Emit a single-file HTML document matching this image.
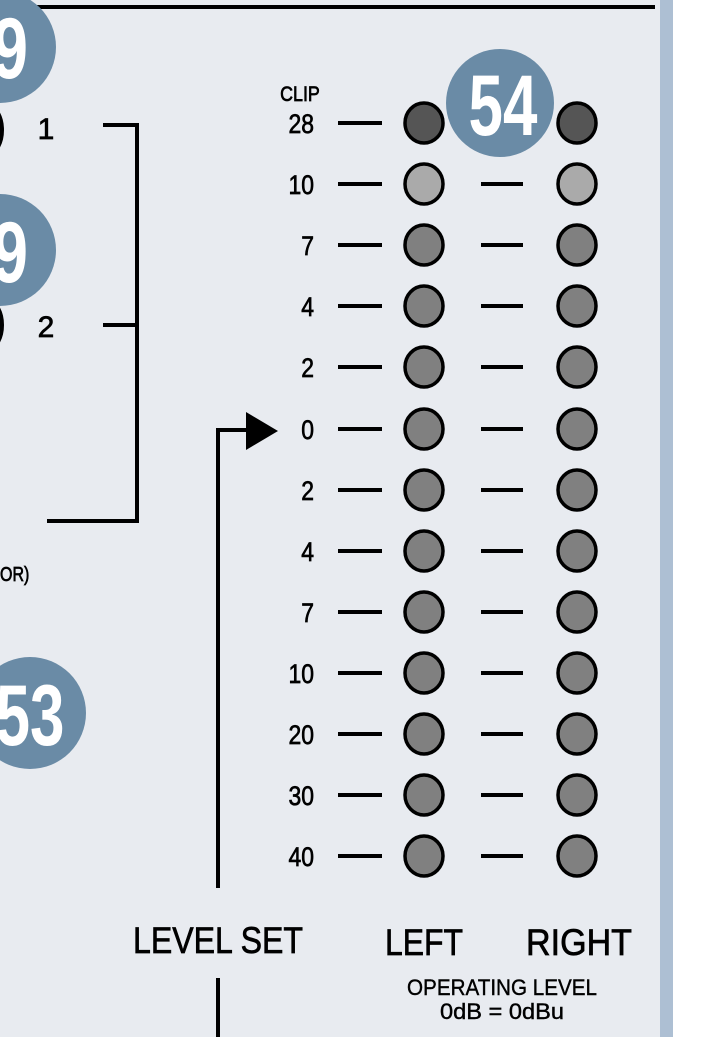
<!DOCTYPE html>
<html><head><meta charset="utf-8"><style>
html,body{margin:0;padding:0;background:#fff;}
svg{display:block;}
text{font-family:"Liberation Sans",sans-serif;}
.m{stroke:#000;stroke-width:0.7;}
</style></head><body>
<svg width="720" height="1037" viewBox="0 0 720 1037" xmlns="http://www.w3.org/2000/svg">
<rect x="0" y="0" width="660" height="1037" fill="#e8ebf0"/>
<rect x="660" y="0" width="13" height="1037" fill="#adbfd3"/>
<rect x="25" y="5" width="630" height="4" fill="#000"/>
<g fill="#6a8ba6">
<circle cx="0" cy="47" r="56"/>
<circle cx="0" cy="250" r="56"/>
<circle cx="30" cy="713" r="56"/>
<circle cx="500" cy="103" r="54"/>
</g>
<g fill="#fff" font-weight="bold" text-anchor="middle">
<text x="10" y="78" font-size="86" transform="translate(10 78) scale(0.75 1) translate(-10 -78)">9</text>
<text x="10" y="282" font-size="86" transform="translate(10 282) scale(0.75 1) translate(-10 -282)">9</text>
<text x="30" y="745" font-size="86" transform="translate(30 745) scale(0.72 1) translate(-30 -745)">53</text>
<text x="503" y="135" font-size="86" transform="translate(503 135) scale(0.72 1) translate(-503 -135)">54</text>
</g>
<ellipse cx="-12" cy="130" rx="14" ry="24" fill="none" stroke="#000" stroke-width="4"/>
<ellipse cx="-12" cy="325" rx="14" ry="24" fill="none" stroke="#000" stroke-width="4"/>
<text class="m" x="46" y="139" font-size="30" text-anchor="middle">1</text>
<text class="m" x="46" y="337" font-size="30" text-anchor="middle">2</text>
<g stroke="#000" stroke-width="4" fill="none">
<polyline points="103,125 137,125 137,521 47,521"/>
<line x1="103" y1="325" x2="137" y2="325"/>
<polyline points="218,888 218,430 250,430"/>
<line x1="218" y1="978" x2="218" y2="1037"/>
</g>
<polygon points="246,412 278,431 246,450" fill="#000"/>
<text class="m" x="0" y="581" font-size="20" transform="translate(0 581) scale(0.8 1) translate(0 -581)">OR)</text>
<text class="m" x="300" y="101" font-size="21" text-anchor="middle" transform="translate(300 101) scale(0.85 1) translate(-300 -101)">CLIP</text>
<g font-size="27" text-anchor="end" class="m">
<text x="314" y="133" transform="translate(314 0) scale(0.85 1) translate(-314 0)">28</text>
<text x="314" y="194" transform="translate(314 0) scale(0.85 1) translate(-314 0)">10</text>
<text x="314" y="255" transform="translate(314 0) scale(0.85 1) translate(-314 0)">7</text>
<text x="314" y="316" transform="translate(314 0) scale(0.85 1) translate(-314 0)">4</text>
<text x="314" y="377" transform="translate(314 0) scale(0.85 1) translate(-314 0)">2</text>
<text x="314" y="439" transform="translate(314 0) scale(0.85 1) translate(-314 0)">0</text>
<text x="314" y="500" transform="translate(314 0) scale(0.85 1) translate(-314 0)">2</text>
<text x="314" y="561" transform="translate(314 0) scale(0.85 1) translate(-314 0)">4</text>
<text x="314" y="622" transform="translate(314 0) scale(0.85 1) translate(-314 0)">7</text>
<text x="314" y="683" transform="translate(314 0) scale(0.85 1) translate(-314 0)">10</text>
<text x="314" y="744" transform="translate(314 0) scale(0.85 1) translate(-314 0)">20</text>
<text x="314" y="805" transform="translate(314 0) scale(0.85 1) translate(-314 0)">30</text>
<text x="314" y="866" transform="translate(314 0) scale(0.85 1) translate(-314 0)">40</text>
</g>
<g stroke="#000" stroke-width="4">
<line x1="338" y1="123" x2="382" y2="123"/>
<line x1="338" y1="184" x2="382" y2="184"/><line x1="481" y1="184" x2="523" y2="184"/>
<line x1="338" y1="245" x2="382" y2="245"/><line x1="481" y1="245" x2="523" y2="245"/>
<line x1="338" y1="306" x2="382" y2="306"/><line x1="481" y1="306" x2="523" y2="306"/>
<line x1="338" y1="367" x2="382" y2="367"/><line x1="481" y1="367" x2="523" y2="367"/>
<line x1="338" y1="429" x2="382" y2="429"/><line x1="481" y1="429" x2="523" y2="429"/>
<line x1="338" y1="490" x2="382" y2="490"/><line x1="481" y1="490" x2="523" y2="490"/>
<line x1="338" y1="551" x2="382" y2="551"/><line x1="481" y1="551" x2="523" y2="551"/>
<line x1="338" y1="612" x2="382" y2="612"/><line x1="481" y1="612" x2="523" y2="612"/>
<line x1="338" y1="673" x2="382" y2="673"/><line x1="481" y1="673" x2="523" y2="673"/>
<line x1="338" y1="734" x2="382" y2="734"/><line x1="481" y1="734" x2="523" y2="734"/>
<line x1="338" y1="795" x2="382" y2="795"/><line x1="481" y1="795" x2="523" y2="795"/>
<line x1="338" y1="856" x2="382" y2="856"/><line x1="481" y1="856" x2="523" y2="856"/>
</g>
<g stroke="#000" stroke-width="3.5">
<ellipse cx="424" cy="123" rx="19" ry="20" fill="#555"/><ellipse cx="577" cy="123" rx="19" ry="20" fill="#555"/>
<ellipse cx="424" cy="184" rx="19" ry="20" fill="#aaa"/><ellipse cx="577" cy="184" rx="19" ry="20" fill="#aaa"/>
<g fill="#808080">
<ellipse cx="424" cy="245" rx="19" ry="20"/><ellipse cx="577" cy="245" rx="19" ry="20"/>
<ellipse cx="424" cy="306" rx="19" ry="20"/><ellipse cx="577" cy="306" rx="19" ry="20"/>
<ellipse cx="424" cy="367" rx="19" ry="20"/><ellipse cx="577" cy="367" rx="19" ry="20"/>
<ellipse cx="424" cy="429" rx="19" ry="20"/><ellipse cx="577" cy="429" rx="19" ry="20"/>
<ellipse cx="424" cy="490" rx="19" ry="20"/><ellipse cx="577" cy="490" rx="19" ry="20"/>
<ellipse cx="424" cy="551" rx="19" ry="20"/><ellipse cx="577" cy="551" rx="19" ry="20"/>
<ellipse cx="424" cy="612" rx="19" ry="20"/><ellipse cx="577" cy="612" rx="19" ry="20"/>
<ellipse cx="424" cy="673" rx="19" ry="20"/><ellipse cx="577" cy="673" rx="19" ry="20"/>
<ellipse cx="424" cy="734" rx="19" ry="20"/><ellipse cx="577" cy="734" rx="19" ry="20"/>
<ellipse cx="424" cy="795" rx="19" ry="20"/><ellipse cx="577" cy="795" rx="19" ry="20"/>
<ellipse cx="424" cy="856" rx="19" ry="20"/><ellipse cx="577" cy="856" rx="19" ry="20"/>
</g>
</g>
<g font-size="37" class="m">
<text x="133" y="953" textLength="170" lengthAdjust="spacingAndGlyphs">LEVEL SET</text>
<text x="385" y="955" textLength="78" lengthAdjust="spacingAndGlyphs">LEFT</text>
<text x="526" y="955" textLength="106" lengthAdjust="spacingAndGlyphs">RIGHT</text>
</g>
<text class="m" x="407" y="995" font-size="22" textLength="190" lengthAdjust="spacingAndGlyphs" style="stroke-width:0.4">OPERATING LEVEL</text>
<text class="m" x="440" y="1019" font-size="22" textLength="124" lengthAdjust="spacingAndGlyphs" style="stroke-width:0.4">0dB = 0dBu</text>
</svg>
</body></html>
